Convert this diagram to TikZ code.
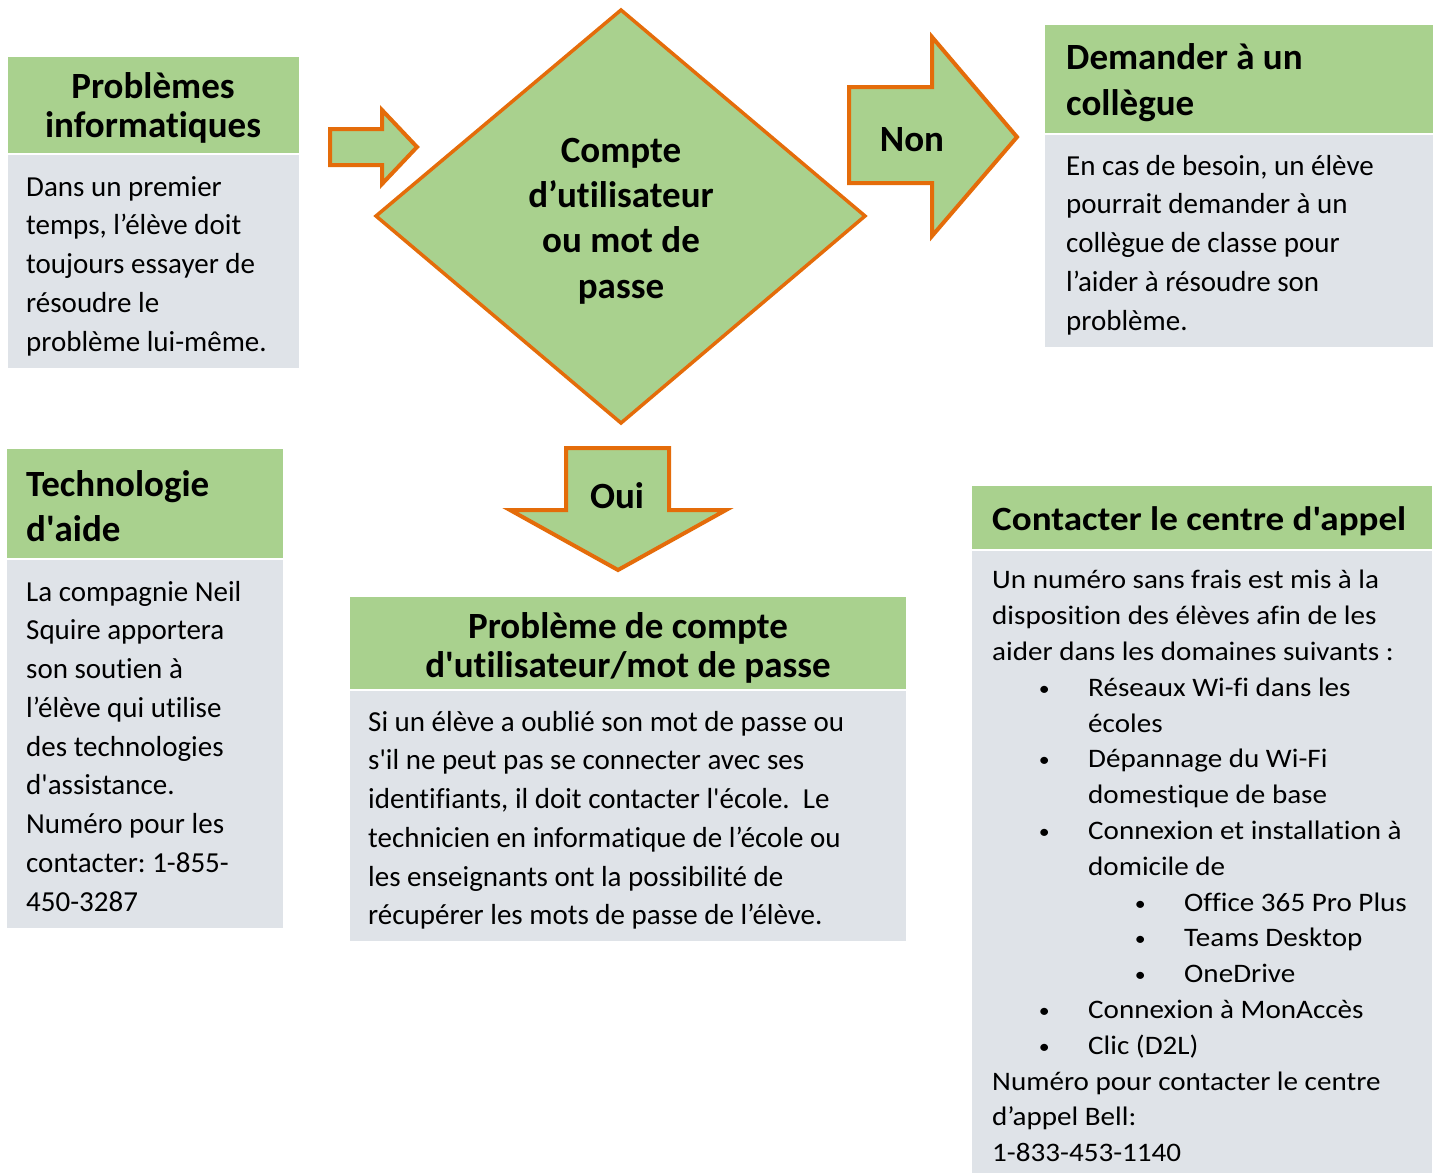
\documentclass[tikz,border=0pt]{standalone}
\usepackage{fontspec}
\setmainfont[Ligatures={NoCommon}]{Carlito}
\newfontfamily\widefont[FakeStretch=1.09, Ligatures={NoCommon}]{Carlito}
\usetikzlibrary{calc}
\definecolor{hdrgreen}{HTML}{A9D18E}
\definecolor{bodygray}{HTML}{DFE3E8}
\definecolor{edgeorange}{HTML}{E46C0A}
\frenchspacing
\def\topline{\rule{0pt}{36pt}}
\def\sq{\textquotesingle}
\def\bulchar{\raisebox{1pt}{\scalebox{0.75}{•}}}
\def\itembul{\hspace*{52pt}\makebox[0pt]{\bulchar}\hspace*{44pt}}
\def\itemind{\hspace*{96pt}}
\def\subitembul{\hspace*{148pt}\makebox[0pt]{\bulchar}\hspace*{44pt}}
\tikzset{
  hdr/.style={fill=hdrgreen},
  bodybox/.style={fill=bodygray},
  blockarrow/.style={fill=hdrgreen, draw=edgeorange, line width=4pt, line join=miter},
  titletext/.style={inner sep=0pt, font=\fontsize{37}{39}\selectfont\bfseries},
  bodytext/.style={anchor=north west, inner sep=0pt, align=left, font=\fontsize{29}{38.75}\selectfont},
  widetitle/.style={anchor=north west, inner sep=0pt, font=\widefont\fontsize{34}{36}\selectfont\bfseries},
  widebody/.style={anchor=north west, inner sep=0pt, align=left, font=\widefont\fontsize{26.7}{35.8}\selectfont}
}

\begin{document}
\begin{tikzpicture}[x=1pt, y=-1pt]
			%%%%% START %%%%%
			\useasboundingbox (0, 0) rectangle (1439, 1173);
			
			% problemes informatiques
			\fill[hdr] (8, 57) rectangle (299, 153);
			\fill[bodybox] (8, 155) rectangle (299, 368);
			\node[titletext, anchor=north, align=center] (probinfo) at (153, 62) {\topline Problèmes\\informatiques};
			\node[bodytext] (probinfotxt) at (26, 160) {\topline Dans un premier\\temps, l’élève doit\\toujours essayer de\\résoudre le\\problème lui-même.};
			
			\draw[blockarrow] (330, 129) -- (382, 129) -- (382, 110) -- (417, 147) -- (382, 184) -- (382, 165) -- (330, 165) -- cycle;
			
			% losange
			\draw[blockarrow, line width=3.5pt] (621, 10) -- (865, 216) -- (621, 423) -- (376, 216) -- cycle;
			\node[titletext, anchor=north, align=center, font=\fontsize{37}{45.3}\selectfont\bfseries] (compte) at (621, 126) {\topline Compte\\d’utilisateur\\ou mot de\\passe};
			
			% non
			\draw[blockarrow] (849, 87) -- (932, 87) -- (932, 37) -- (1017, 137) -- (932, 236) -- (932, 183) -- (849, 183) -- cycle;
			\node[titletext, anchor=base] (non) at (912, 151) {Non};
			
			\fill[hdr] (1045, 25) rectangle (1433, 133);
			\fill[bodybox] (1045, 135) rectangle (1433, 347);
			\node[titletext, anchor=north west, align=left, font=\fontsize{37}{46}\selectfont\bfseries] (collegue) at (1066, 33) {\topline Demander à un\\collègue};
			\node[bodytext] (colleguetxt) at (1066, 139) {\topline En cas de besoin, un élève\\pourrait demander à un\\collègue de classe pour\\l’aider à résoudre son\\problème.};
			
			% technologie d'aide
			\fill[hdr] (7, 449) rectangle (283, 558);
			\fill[bodybox] (7, 560) rectangle (283, 928);
			\node[titletext, anchor=north west, align=left, font=\fontsize{37}{45}\selectfont\bfseries] (techaide) at (26, 460) {\topline Technologie\\d\sq aide};
			\node[bodytext] (techaidetxt) at (26, 565) {\topline La compagnie Neil\\Squire apportera\\son soutien à\\l’élève qui utilise\\des technologies\\d\sq assistance.\\Numéro pour les\\contacter: 1-855-\\450-3287};
			
			% oui
			\draw[blockarrow] (566, 448) -- (669, 448) -- (669, 510) -- (726, 510) -- (618, 570) -- (510, 510) -- (566, 510) -- cycle;
			\node[titletext, anchor=base] (oui) at (617, 508) {Oui};
			
			\fill[hdr] (350, 597) rectangle (906, 689);
			\fill[bodybox] (350, 691) rectangle (906, 941);
			\node[titletext, anchor=north, align=center] (probcompte) at (628, 602) {\topline Problème de compte\\d\sq utilisateur/mot de passe};
			\node[bodytext] (probcomptetxt) at (368, 695) {\topline Si un élève a oublié son mot de passe ou\\s\sq il ne peut pas se connecter avec ses\\identifiants, il doit contacter l\sq école.~ Le\\technicien en informatique de l’école ou\\les enseignants ont la possibilité de\\récupérer les mots de passe de l’élève.};
			
			% centre d'appel
			\fill[hdr] (972, 486) rectangle (1432, 549);
			\fill[bodybox] (972, 551) rectangle (1432, 1173);
			\node[widetitle] (appel) at (992, 494) {\topline Contacter le centre d\sq appel};
			\node[widebody] (appeltxt) at (992, 552.6) {\topline Un numéro sans frais est mis à la\\disposition des élèves afin de les\\aider dans les domaines suivants :\\
				\itembul Réseaux Wi-fi dans les\\\itemind écoles\\
				\itembul Dépannage du Wi-Fi\\\itemind domestique de base\\
				\itembul Connexion et installation à\\\itemind domicile de\\
				\subitembul Office 365 Pro Plus\\\subitembul Teams Desktop\\\subitembul OneDrive\\
				\itembul Connexion à MonAccès\\\itembul Clic (D2L)\\
				Numéro pour contacter le centre\\d’appel Bell:\\1-833-453-1140};
			
			%%%%% END %%%%%
\end{tikzpicture}
\end{document}
